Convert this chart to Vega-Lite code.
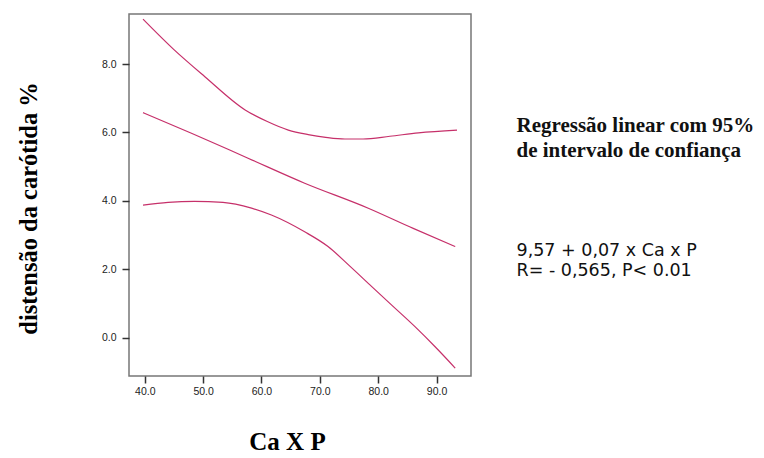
{
  "$schema": "https://vega.github.io/schema/vega-lite/v6.json",
  "autosize": {"type": "none"},
  "width": 342,
  "height": 362,
  "padding": {"left": 129, "top": 14, "right": 293, "bottom": 82},
  "background": "white",
  "config": {
    "view": {"stroke": "#777777", "strokeWidth": 1.5},
    "axis": {
      "domain": false,
      "grid": false,
      "tickColor": "#333333",
      "tickWidth": 1.5,
      "tickSize": 7,
      "labelFont": "Liberation Sans",
      "labelFontSize": 10.5,
      "labelColor": "#222222",
      "titleFont": "Liberation Serif",
      "titleFontWeight": "bold",
      "titleColor": "#000000"
    }
  },
  "datasets": {
    "curves": [
      {"x": 39.7, "y": 9.31, "s": "upper"},
      {"x": 45.0, "y": 8.42, "s": "upper"},
      {"x": 50.3, "y": 7.63, "s": "upper"},
      {"x": 57.2, "y": 6.66, "s": "upper"},
      {"x": 61.0, "y": 6.32, "s": "upper"},
      {"x": 64.6, "y": 6.07, "s": "upper"},
      {"x": 68.0, "y": 5.94, "s": "upper"},
      {"x": 71.0, "y": 5.86, "s": "upper"},
      {"x": 74.3, "y": 5.81, "s": "upper"},
      {"x": 77.4, "y": 5.81, "s": "upper"},
      {"x": 82.0, "y": 5.89, "s": "upper"},
      {"x": 86.9, "y": 5.99, "s": "upper"},
      {"x": 93.5, "y": 6.07, "s": "upper"},
      {"x": 39.7, "y": 6.58, "s": "mid"},
      {"x": 48.0, "y": 5.98, "s": "mid"},
      {"x": 57.7, "y": 5.25, "s": "mid"},
      {"x": 67.4, "y": 4.52, "s": "mid"},
      {"x": 78.3, "y": 3.79, "s": "mid"},
      {"x": 86.0, "y": 3.2, "s": "mid"},
      {"x": 93.2, "y": 2.67, "s": "mid"},
      {"x": 39.7, "y": 3.88, "s": "lower"},
      {"x": 44.0, "y": 3.96, "s": "lower"},
      {"x": 48.5, "y": 3.99, "s": "lower"},
      {"x": 53.4, "y": 3.96, "s": "lower"},
      {"x": 58.3, "y": 3.79, "s": "lower"},
      {"x": 61.7, "y": 3.59, "s": "lower"},
      {"x": 67.4, "y": 3.10, "s": "lower"},
      {"x": 71.4, "y": 2.67, "s": "lower"},
      {"x": 75.0, "y": 2.12, "s": "lower"},
      {"x": 78.9, "y": 1.50, "s": "lower"},
      {"x": 82.5, "y": 0.93, "s": "lower"},
      {"x": 86.3, "y": 0.33, "s": "lower"},
      {"x": 90.0, "y": -0.30, "s": "lower"},
      {"x": 93.2, "y": -0.88, "s": "lower"}
    ],
    "note1": [
      {"x": 103.7, "y": 6.0, "t": "Regressão linear com 95%"},
      {"x": 103.7, "y": 5.28, "t": "de intervalo de confiança"}
    ],
    "note2": [
      {"x": 103.7, "y": 2.4, "t": "9,57 + 0,07 x Ca x P"},
      {"x": 103.7, "y": 1.82, "t": "R= - 0,565, P< 0.01"}
    ]
  },
  "layer": [
    {
      "data": {"name": "curves"},
      "mark": {"type": "line", "strokeWidth": 1.2, "interpolate": "monotone", "color": "#c6306a"},
      "encoding": {
        "x": {
          "field": "x", "type": "quantitative",
          "scale": {"domain": [37.3, 95.9], "nice": false, "zero": false},
          "axis": {"values": [40, 50, 60, 70, 80, 90], "format": ".1f", "title": "Ca X P", "titleFontSize": 25, "labelPadding": 3, "titleBaseline": "alphabetic", "titleY": 73, "titleX": 158}
        },
        "y": {
          "field": "y", "type": "quantitative",
          "scale": {"domain": [-1.11, 9.46], "nice": false, "zero": false},
          "axis": {"values": [0, 2, 4, 6, 8], "format": ".1f", "title": "distensão da carótida %", "titleFontSize": 24.5, "labelPadding": 6, "titleX": -100, "titleY": 194, "titleBaseline": "middle"}
        },
        "detail": {"field": "s", "type": "nominal"}
      }
    },
    {
      "data": {"name": "note1"},
      "mark": {"type": "text", "align": "left", "baseline": "alphabetic", "font": "Liberation Serif", "fontWeight": "bold", "fontSize": 21, "clip": false, "color": "#111111"},
      "encoding": {
        "x": {"field": "x", "type": "quantitative"},
        "y": {"field": "y", "type": "quantitative"},
        "text": {"field": "t"}
      }
    },
    {
      "data": {"name": "note2"},
      "mark": {"type": "text", "align": "left", "baseline": "alphabetic", "font": "DejaVu Sans", "fontSize": 17.5, "clip": false, "color": "#111111"},
      "encoding": {
        "x": {"field": "x", "type": "quantitative"},
        "y": {"field": "y", "type": "quantitative"},
        "text": {"field": "t"}
      }
    }
  ]
}
